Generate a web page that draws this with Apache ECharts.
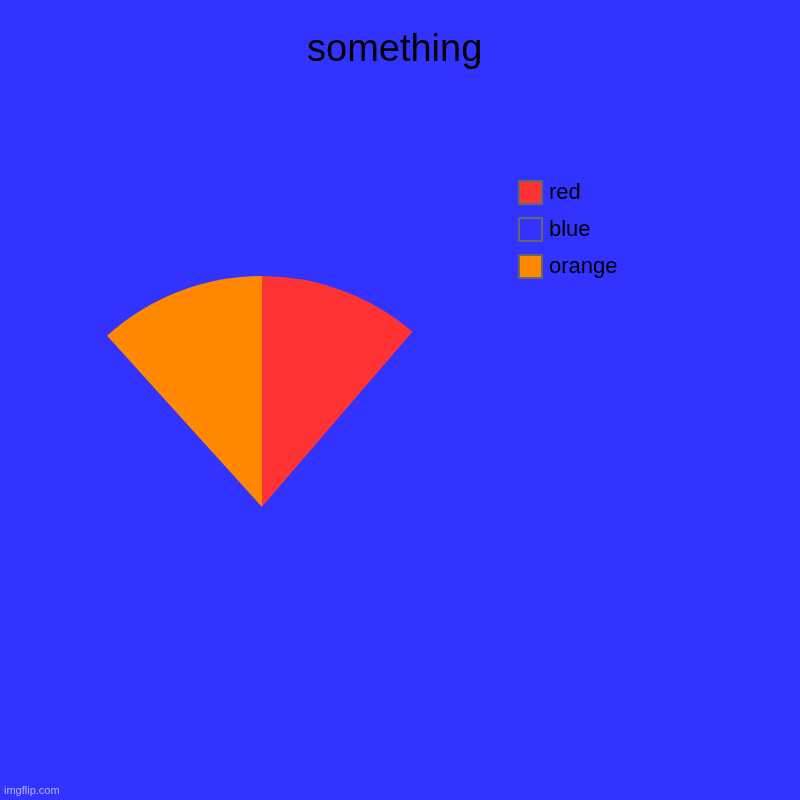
<!DOCTYPE html>
<html>
<head>
<meta charset="utf-8">
<script src="https://cdn.jsdelivr.net/npm/echarts@6/dist/echarts.min.js"></script>
<style>
  html, body { margin: 0; padding: 0; background: #3333ff; }
  #chart { width: 800px; height: 800px; }
</style>
</head>
<body>
<div id="chart"></div>
<script>
  // data
  var names = ['red', 'blue', 'orange'];
  var values = [11.3, 77.0, 11.7];
  var colors = ['#ff3333', '#3333ff', '#ff8800'];

  var chart = echarts.init(document.getElementById('chart'));

  var pieData = names.map(function (n, i) {
    return { name: n, value: values[i], itemStyle: { color: colors[i] } };
  });

  var option = {
    backgroundColor: '#3333ff',
    animation: false,
    title: {
      text: 'something',
      left: 302,
      top: 27,
      textStyle: { fontFamily: 'Liberation Sans', fontSize: 38, fontWeight: 'normal', color: '#000' }
    },
    legend: {
      orient: 'vertical',
      left: 513,
      top: 175,
      itemWidth: 23,
      itemHeight: 23,
      itemGap: 12,
      icon: 'rect',
      data: names,
      itemStyle: { borderColor: '#666', borderWidth: 2 },
      textStyle: { fontFamily: 'Liberation Sans', fontSize: 22, color: '#000', padding: [0, 0, 0, 2] }
    },
    graphic: [{
      type: 'text',
      left: 4,
      top: 785,
      style: { text: 'imgflip.com', fontFamily: 'Liberation Sans', fontSize: 11, fill: 'rgba(220,220,235,0.75)' }
    }],
    series: [{
      type: 'pie',
      center: [262, 507],
      radius: [0, 231],
      startAngle: 90,
      clockwise: true,
      label: { show: false },
      labelLine: { show: false },
      itemStyle: { borderWidth: 0 },
      data: pieData
    }]
  };

  chart.setOption(option);
</script>
</body>
</html>
